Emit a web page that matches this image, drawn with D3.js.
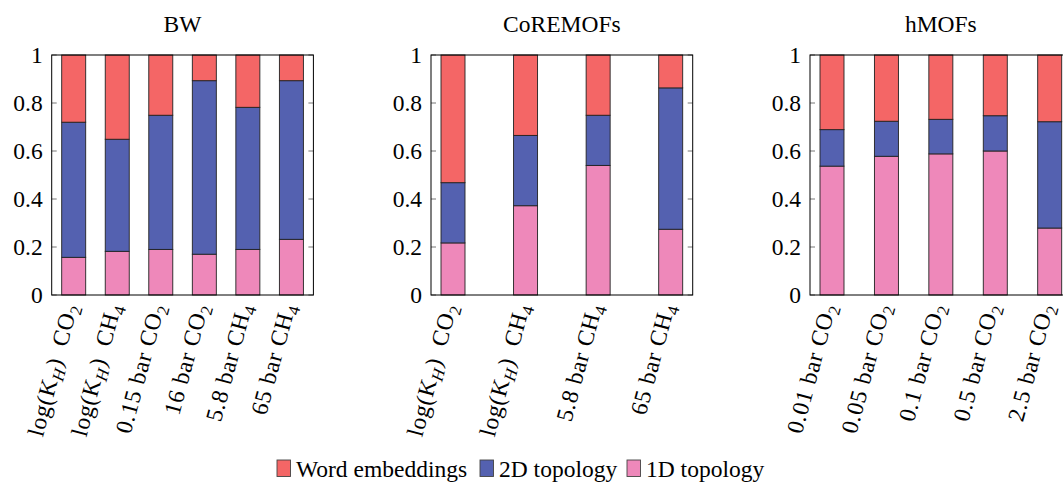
<!DOCTYPE html>
<html>
<head>
<meta charset="utf-8">
<script src="https://cdn.jsdelivr.net/npm/d3@7"></script>
<style>
  html, body { margin: 0; padding: 0; background: #fff; }
  svg { display: block; }
  svg text { font-family: "Liberation Serif", serif; }
</style>
</head>
<body>
<svg id="chart" width="1063" height="484" font-family="Liberation Serif, serif"></svg>
<script>
// Share of each feature family, stacked to 1 per target property.
const seriesNames = ["1D topology", "2D topology", "Word embeddings"];
const seriesColors = ["#ee88ba", "#5461b0", "#f46666"];

const panelTitles = ["BW", "CoREMOFs", "hMOFs"];

// labels: "_x" marks a one-character subscript
const bwLabels = ["log(K_H)\u2002CO_2", "log(K_H)\u2002CH_4", "0.15 bar CO_2", "16 bar CO_2", "5.8 bar CH_4", "65 bar CH_4"];
const bw1D = [0.157, 0.182, 0.190, 0.170, 0.190, 0.232];
const bw2D = [0.563, 0.467, 0.559, 0.723, 0.592, 0.661];
const bwWord = [0.280, 0.351, 0.251, 0.107, 0.218, 0.107];

const coreLabels = ["log(K_H)\u2002CO_2", "log(K_H)\u2002CH_4", "5.8 bar CH_4", "65 bar CH_4"];
const core1D = [0.217, 0.372, 0.540, 0.274];
const core2D = [0.251, 0.293, 0.209, 0.589];
const coreWord = [0.532, 0.335, 0.251, 0.137];

const hmofLabels = ["0.01 bar CO_2", "0.05 bar CO_2", "0.1 bar CO_2", "0.5 bar CO_2", "2.5 bar CO_2"];
const hmof1D = [0.537, 0.578, 0.588, 0.600, 0.279];
const hmof2D = [0.152, 0.146, 0.144, 0.147, 0.443];
const hmofWord = [0.311, 0.276, 0.268, 0.253, 0.278];

const yTicks = [0, 0.2, 0.4, 0.6, 0.8, 1];
const yTickLabels = ["0", "0.2", "0.4", "0.6", "0.8", "1"];

const panels = [
  { title: panelTitles[0], labels: bwLabels, series: [bw1D, bw2D, bwWord] },
  { title: panelTitles[1], labels: coreLabels, series: [core1D, core2D, coreWord] },
  { title: panelTitles[2], labels: hmofLabels, series: [hmof1D, hmof2D, hmofWord] }
];

const svg = d3.select("#chart");
const FONT_FAMILY = "Liberation Serif, serif";
const FONT = 23.5;
const LABEL_FONT = 23.5;
const LABEL_ANGLE = -75;
const plotW = 261.7, plotTop = 55, plotBottom = 295;
const panelLeft = [51.7, 431, 810];
const edgePad = 22;     // gap between frame and outermost bar centre
const barW = 24;

// write a label with one-character subscripts into a text node
function richText(sel, str, size) {
  const parts = [];
  let buf = "";
  for (let i = 0; i < str.length; i++) {
    if (str[i] === "_" && i + 1 < str.length) {
      if (buf) parts.push({ t: buf, sub: false });
      buf = "";
      parts.push({ t: str[i + 1], sub: true });
      i++;
    } else buf += str[i];
  }
  if (buf) parts.push({ t: buf, sub: false });
  let shifted = false;
  parts.forEach(p => {
    const ts = sel.append("tspan").text(p.t);
    if (p.sub) {
      ts.attr("dy", 5).attr("font-size", size * 0.72);
      if (/[A-Za-z]/.test(p.t)) ts.attr("font-style", "italic");
      shifted = true;
    } else if (shifted) {
      ts.attr("dy", -5);
      shifted = false;
    }
  });
}

panels.forEach((p, pi) => {
  const x0 = panelLeft[pi];
  const g = svg.append("g").attr("transform", `translate(${x0},0)`);

  const x = d3.scalePoint()
    .domain(p.labels)
    .range([edgePad, plotW - edgePad]);
  const y = d3.scaleLinear().domain([0, 1]).range([plotBottom, plotTop]);

  // stacked layout from the three series
  const rows = p.labels.map((l, i) => ({
    label: l,
    s0: p.series[0][i], s1: p.series[1][i], s2: p.series[2][i]
  }));
  const stack = d3.stack().keys(["s0", "s1", "s2"])(rows);

  const layers = g.selectAll("g.layer").data(stack).join("g")
    .attr("class", "layer")
    .attr("fill", (d, i) => seriesColors[i]);
  layers.selectAll("rect").data(d => d).join("rect")
    .attr("x", d => x(d.data.label) - barW / 2)
    .attr("width", barW)
    .attr("y", d => y(d[1]))
    .attr("height", d => y(d[0]) - y(d[1]))
    .attr("stroke", "#222")
    .attr("stroke-width", 0.9);

  // y ticks on both sides, pointing inward
  const tickLen = 5;
  yTicks.forEach(v => {
    g.append("line").attr("x1", 0).attr("x2", tickLen)
      .attr("y1", y(v)).attr("y2", y(v)).attr("stroke", "#777").attr("stroke-width", 1);
    g.append("line").attr("x1", plotW - tickLen).attr("x2", plotW)
      .attr("y1", y(v)).attr("y2", y(v)).attr("stroke", "#777").attr("stroke-width", 1);
  });

  // y tick labels
  const yAxis = d3.axisLeft(y).tickValues(yTicks)
    .tickFormat((d, i) => yTickLabels[i]).tickSize(0).tickPadding(9);
  const ya = g.append("g").call(yAxis)
    .attr("font-family", FONT_FAMILY).attr("font-size", FONT);
  ya.select(".domain").remove();
  ya.selectAll("text").attr("fill", "#000");

  // frame
  g.append("rect").attr("x", 0).attr("y", plotTop)
    .attr("width", plotW).attr("height", plotBottom - plotTop)
    .attr("fill", "none").attr("stroke", "#000").attr("stroke-width", 1);

  // title
  g.append("text").attr("x", plotW / 2).attr("y", 32)
    .attr("text-anchor", "middle").attr("font-family", FONT_FAMILY)
    .attr("font-size", FONT).text(p.title);

  // rotated category labels
  p.labels.forEach(l => {
    const t = g.append("text")
      .attr("transform", `translate(${x(l) - 2.5},${plotBottom + 9}) rotate(${LABEL_ANGLE})`)
      .attr("text-anchor", "end")
      .attr("dy", "0.3em")
      .attr("letter-spacing", 0.8)
      .attr("font-family", FONT_FAMILY)
      .attr("font-size", LABEL_FONT);
    richText(t, l, LABEL_FONT);
  });
});

// legend
const legend = svg.append("g").attr("font-family", FONT_FAMILY);
const legendOrder = [2, 1, 0];
const legendX = [277, 480, 627];
legendOrder.forEach((si, k) => {
  legend.append("rect").attr("x", legendX[k]).attr("y", 460)
    .attr("width", 13.5).attr("height", 16.5)
    .attr("fill", seriesColors[si]).attr("stroke", "#444").attr("stroke-width", 0.9);
  legend.append("text").attr("x", legendX[k] + 19).attr("y", 477)
    .attr("font-size", FONT).text(seriesNames[si]);
});
</script>
</body>
</html>
